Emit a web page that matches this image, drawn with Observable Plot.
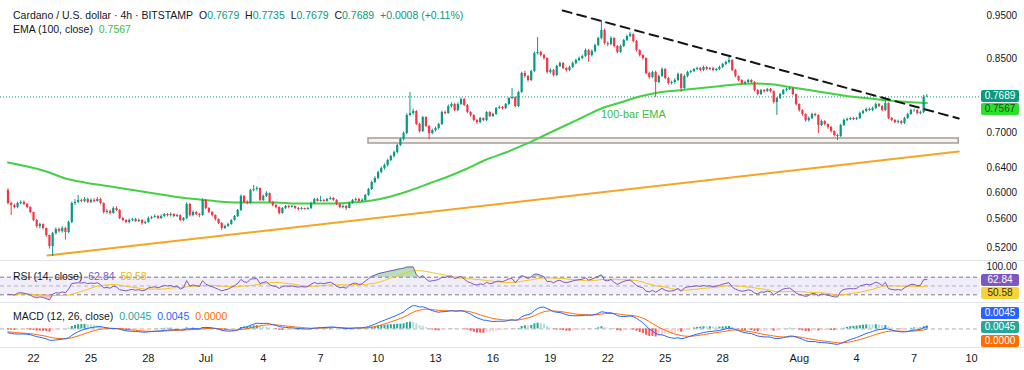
<!DOCTYPE html>
<html><head><meta charset="utf-8">
<script src="https://cdn.jsdelivr.net/npm/d3@7"></script>
<script src="https://cdn.jsdelivr.net/npm/@observablehq/plot@0.6"></script>
<style>
body{margin:0;background:#fff;}
#wrap{position:relative;width:1024px;height:370px;overflow:hidden;background:#fff;font-family:"Liberation Sans",Arial,sans-serif;}
.panel{position:absolute;left:0;}
.panel svg{overflow:hidden;}
.lg{position:absolute;left:13px;font-size:10.5px;color:#131722;white-space:nowrap;line-height:12px;}
.box{position:absolute;left:981px;width:38px;height:12px;font-size:10px;line-height:12px;text-align:center;border-radius:2px;}
.sep{position:absolute;left:0;width:1024px;height:1px;background:#e0e3eb;}
</style></head><body><div id="wrap"></div>
<script>
// ---------- data ----------
const barStart = Date.UTC(2025, 5, 20, 16);   // first 4h candle
const barHours = 4;
const firstOpen = 0.6030;
const closes = [
.5830,.5800,.5770,.5830,.5846,.5815,
.5770,.5695,.5578,.5492,.5520,.5463,
.5365,.5213,.5393,.5449,.5421,.5463,
.5407,.5549,.5830,.5846,.5876,.5861,
.5891,.5846,.5876,.5861,.5891,.5830,
.5695,.5710,.5680,.5755,.5725,.5607,
.5578,.5549,.5578,.5593,.5564,.5578,
.5535,.5549,.5607,.5622,.5636,.5607,
.5636,.5666,.5651,.5666,.5636,.5651,
.5578,.5607,.5815,.5651,.5695,.5666,
.5651,.5876,.5755,.5695,.5651,.5593,
.5535,.5463,.5492,.5520,.5578,.5636,
.5725,.5938,.5846,.5830,.6030,.6046,
.6061,.5876,.5938,.5984,.5846,.5800,
.5770,.5680,.5755,.5785,.5770,.5785,
.5755,.5740,.5755,.5740,.5755,.5830,
.5891,.5861,.5876,.5861,.5891,.5907,
.5876,.5815,.5770,.5785,.5755,.5830,
.5876,.5891,.5861,.5876,.5953,.6046,
.6157,.6221,.6319,.6385,.6435,.6519,
.6587,.6655,.6778,.6884,.6992,.7327,
.7365,.7403,.7158,.7029,.7289,.7121,
.6992,.7047,.7084,.7158,.7384,.7365,
.7500,.7540,.7422,.7540,.7638,.7520,
.7384,.7327,.7233,.7195,.7270,.7233,
.7384,.7308,.7346,.7461,.7481,.7461,
.7540,.7658,.7678,.7500,.7778,.8171,
.8108,.8024,.8214,.8607,.8630,.8562,
.8496,.8193,.8235,.8129,.8321,.8386,
.8278,.8235,.8300,.8386,.8452,.8496,
.8540,.8675,.8562,.8652,.8788,.8949,
.9137,.8834,.8811,.8949,.8766,.8630,
.8766,.8903,.8996,.9043,.8880,.8675,
.8562,.8496,.8171,.8087,.8193,.7983,
.8108,.8257,.8066,.7962,.7983,.8024,
.8150,.7859,.8108,.8193,.8214,.8257,
.8278,.8235,.8300,.8257,.8278,.8235,
.8257,.8300,.8364,.8408,.8452,.8235,
.8108,.8024,.7962,.7983,.8024,.7983,
.7818,.7737,.7818,.7798,.7838,.7798,
.7579,.7658,.7737,.7818,.7838,.7859,
.7737,.7540,.7422,.7346,.7233,.7270,
.7346,.7327,.7139,.7214,.7158,.7102,
.7029,.6956,.6938,.7139,.7233,.7251,
.7270,.7251,.7270,.7365,.7403,.7442,
.7422,.7461,.7540,.7500,.7422,.7559,
.7270,.7233,.7195,.7214,.7177,.7270,
.7346,.7422,.7422,.7365,.7384,.7679,
.7689];
const highs = [
.606,.585,.582,.585,.587,.587,
.583,.578,.570,.559,.554,.553,
.547,.537,.541,.547,.547,.549,
.548,.557,.585,.589,.595,.590,
.592,.591,.590,.590,.592,.591,
.584,.574,.573,.578,.578,.574,
.562,.559,.560,.561,.561,.560,
.559,.557,.563,.564,.566,.565,
.566,.568,.568,.569,.568,.567,
.566,.562,.584,.583,.572,.571,
.568,.590,.589,.577,.571,.566,
.560,.555,.551,.554,.559,.565,
.574,.596,.595,.587,.605,.611,
.609,.607,.596,.601,.599,.586,
.582,.578,.577,.580,.580,.580,
.579,.577,.577,.576,.577,.585,
.591,.591,.594,.589,.591,.593,
.592,.589,.582,.581,.580,.585,
.589,.591,.591,.590,.597,.606,
.618,.625,.634,.641,.646,.654,
.661,.668,.680,.691,.702,.736,
.778,.745,.742,.718,.731,.730,
.714,.707,.711,.718,.741,.741,
.753,.757,.756,.757,.767,.766,
.754,.740,.734,.725,.729,.728,
.740,.740,.737,.748,.751,.750,
.756,.768,.786,.769,.780,.820,
.822,.813,.824,.864,.897,.866,
.859,.851,.827,.826,.835,.842,
.841,.830,.833,.842,.848,.853,
.857,.871,.870,.869,.882,.898,
.938,.917,.887,.899,.897,.879,
.880,.893,.903,.909,.906,.890,
.869,.858,.851,.820,.822,.822,
.814,.829,.828,.809,.801,.806,
.818,.817,.814,.822,.824,.828,
.831,.830,.833,.832,.830,.830,
.828,.833,.839,.844,.856,.847,
.826,.812,.804,.801,.805,.804,
.800,.784,.784,.784,.786,.786,
.781,.768,.776,.784,.787,.789,
.788,.775,.755,.744,.736,.730,
.737,.737,.734,.724,.723,.717,
.712,.704,.698,.716,.726,.728,
.729,.729,.729,.739,.743,.747,
.747,.749,.757,.756,.752,.762,
.757,.729,.725,.724,.723,.729,
.737,.745,.745,.744,.741,.772,
.7735];
const lows = [
.581,.565,.575,.575,.581,.580,
.575,.568,.556,.547,.546,.544,
.534,.518,.508,.537,.540,.540,
.530,.539,.553,.580,.583,.584,
.584,.583,.583,.584,.585,.581,
.567,.567,.566,.567,.571,.559,
.556,.553,.553,.556,.555,.555,
.551,.552,.554,.559,.561,.559,
.559,.562,.563,.563,.562,.562,
.556,.556,.559,.563,.563,.565,
.562,.564,.574,.568,.563,.557,
.552,.5435,.545,.548,.551,.557,
.562,.571,.583,.581,.582,.601,
.602,.586,.586,.592,.583,.578,
.575,.566,.567,.574,.575,.576,
.574,.572,.573,.573,.573,.574,
.582,.585,.585,.585,.585,.588,
.586,.580,.575,.575,.5725,.575,
.582,.586,.585,.585,.586,.594,
.603,.614,.620,.630,.636,.641,
.650,.656,.663,.676,.686,.697,
.730,.733,.714,.700,.701,.710,
.688,.697,.702,.706,.714,.734,
.735,.747,.740,.740,.752,.750,
.736,.730,.721,.716,.717,.721,
.721,.729,.729,.733,.744,.743,
.744,.752,.763,.747,.748,.776,
.807,.799,.800,.819,.857,.853,
.846,.816,.816,.810,.811,.830,
.825,.820,.821,.828,.836,.843,
.847,.852,.841,.853,.862,.876,
.892,.880,.876,.878,.873,.860,
.861,.874,.888,.897,.885,.864,
.853,.846,.814,.805,.806,.768,
.796,.809,.804,.793,.793,.795,
.800,.778,.784,.808,.817,.819,
.823,.821,.821,.823,.823,.821,
.821,.823,.828,.834,.838,.821,
.808,.800,.793,.793,.796,.795,
.779,.771,.772,.777,.778,.777,
.755,.733,.764,.772,.779,.782,
.771,.751,.739,.731,.720,.720,
.725,.730,.699,.712,.713,.707,
.700,.693,.6866,.692,.712,.721,
.723,.723,.723,.725,.734,.738,
.740,.740,.744,.748,.740,.740,
.725,.721,.717,.717,.715,.716,
.725,.733,.739,.734,.734,.736,
.7679];
// EMA(100) read once a day (every 6th candle)
const emaStepBars = 6;
const emaValues = [.6485,.6418,.6336,.6221,.6157,.6109,.6061,.6015,.5969,.5923,.5891,.5861,.5846,.5846,.5846,.5830,.5830,.5830,.5846,.5876,.5938,.6030,.6141,.6254,.6385,.6536,.6655,.6796,.6956,.7121,.7289,.7461,.7579,.7697,.7778,.7818,.7859,.7900,.7942,.7962,.7942,.7879,.7818,.7757,.7697,.7658,.7618,.7588,.7567];
// drawn objects
const supportLineDates = ["2025-06-22T17:30Z", "2025-08-09T08:00Z"];
const supportLinePrices = [0.5093, 0.6673];
const resistLineDates = ["2025-07-19T15:30Z", "2025-08-09T08:00Z"];
const resistLinePrices = [0.9624, 0.7270];
const zoneDates = ["2025-07-09T12:00Z", "2025-08-09T08:00Z"];
const zonePrices = [0.6813, 0.6902];
const noteDate = "2025-07-23T08:00Z", notePrice = 0.7346, noteText = "100-bar EMA";
// axes
const priceTicks = [0.52, 0.56, 0.60, 0.64, 0.70, 0.85, 0.95];
const tickDates = ["2025-06-22","2025-06-25","2025-06-28","2025-07-01","2025-07-04","2025-07-07","2025-07-10","2025-07-13","2025-07-16","2025-07-19","2025-07-22","2025-07-25","2025-07-28","2025-08-01","2025-08-04","2025-08-07","2025-08-10"];
const tickLabels = ["22","25","28","Jul","4","7","10","13","16","19","22","25","28","Aug","4","7","10"];
const viewStart = Date.UTC(2025, 5, 20, 6, 37), viewEnd = Date.UTC(2025, 7, 10, 11, 17);
// legend values
const ohlc = {O:"0.7679", H:"0.7735", L:"0.7679", C:"0.7689"};
const change = "+0.0008 (+0.11%)";
const lastPrice = 0.7689, emaLast = 0.7567;
const rsiLast = 62.84, rsiMaLast = 50.58;
const macdLegend = ["0.0045", "0.0045", "0.0000"];
// indicator seeds (state before the first visible candle)
const rsiSeed = {gain: 0.0025, loss: 0.0040};
const macdSeed = {ema12: 0.600, ema26: 0.605, signal: -0.004};

// ---------- build ----------
const UP = "#089981", DOWN = "#f23645";
const H = 3600e3;
const bars = closes.map((c, i) => ({
  date: new Date(barStart + i * barHours * H),
  open: i ? closes[i - 1] : firstOpen, close: c, high: highs[i], low: lows[i]
}));
bars.forEach(b => b.col = b.close >= b.open ? UP : DOWN);
const emaData = emaValues.map((v, k) => ({date: new Date(barStart + k * emaStepBars * barHours * H), value: v}));
const supportLine = supportLineDates.map((d, i) => ({date: new Date(d), price: supportLinePrices[i]}));
const resistLine = resistLineDates.map((d, i) => ({date: new Date(d), price: resistLinePrices[i]}));
const zone = [{x1: new Date(zoneDates[0]), x2: new Date(zoneDates[1]), y1: zonePrices[0], y2: zonePrices[1]}];

// RSI 14 (Wilder) + SMA 14
let ag = rsiSeed.gain, al = rsiSeed.loss;
const rsi = bars.map(b => {
  const ch = b.close - b.open;
  ag = (ag * 13 + Math.max(ch, 0)) / 14;
  al = (al * 13 + Math.max(-ch, 0)) / 14;
  return 100 - 100 / (1 + ag / al);
});
const rsiData = bars.map((b, i) => {
  const s = rsi.slice(Math.max(0, i - 13), i + 1);
  return {date: b.date, rsi: rsi[i], ma: d3.mean(s)};
});
// MACD 12/26/9
let e12 = macdSeed.ema12, e26 = macdSeed.ema26, sig = macdSeed.signal;
const macdData = bars.map(b => {
  e12 += (b.close - e12) * 2 / 13;
  e26 += (b.close - e26) * 2 / 27;
  const m = e12 - e26;
  sig += (m - sig) * 2 / 10;
  return {date: b.date, macd: m, signal: sig, hist: m - sig};
});
macdData.forEach((d, i) => {
  const p = i ? macdData[i - 1].hist : 0;
  d.col = d.hist >= 0 ? (d.hist >= p ? "#26a69a" : "#b2dfdb") : (d.hist < p ? "#ff5252" : "#ffcdd2");
});

const wrap = document.getElementById("wrap");
const FONT = "Liberation Sans, Arial, sans-serif";
const xOpt = {type: "utc", domain: [new Date(viewStart), new Date(viewEnd)], range: [0, 980], axis: null};
const common = {width: 1024, marginLeft: 0, marginRight: 44, marginTop: 0,
  style: {fontFamily: FONT, fontSize: "10px", color: "#131722", background: "transparent"}};

const main = Plot.plot({
  ...common, height: 260, marginBottom: 0,
  x: xOpt,
  y: {type: "log", domain: [0.50275, 0.98774]},
  marks: [
    Plot.rect(zone, {x1: "x1", x2: "x2", y1: "y1", y2: "y2", fill: "#f6f3ef", stroke: "#a49e97", strokeWidth: 1.5}),
    Plot.line(supportLine, {x: "date", y: "price", stroke: "#f5a524", strokeWidth: 2}),
    Plot.ruleY([lastPrice], {stroke: UP, strokeDasharray: "1,2", strokeWidth: 1}),
    Plot.line(emaData, {x: "date", y: "value", stroke: "#45d045", strokeWidth: 2, curve: "monotone-x"}),
    Plot.ruleX(bars, {x: "date", y1: "low", y2: "high", stroke: "col", strokeWidth: 1}),
    Plot.ruleX(bars, {x: "date", y1: "open", y2: "close", stroke: "col", strokeWidth: 2.2}),
    Plot.line(resistLine, {x: "date", y: "price", stroke: "#151515", strokeWidth: 2, strokeDasharray: "9,6"}),
    Plot.text([{date: new Date(noteDate), price: notePrice, t: noteText}], {x: "date", y: "price", text: "t", fill: "#3cc03c", fontSize: 11}),
    Plot.axisY({anchor: "right", ticks: priceTicks, tickFormat: d3.format(".4f"), tickSize: 0, tickPadding: 6, fontSize: 10, fill: "#131722"})
  ]
});

const rsiPlot = Plot.plot({
  ...common, height: 42, marginBottom: 0,
  x: xOpt,
  y: {domain: [12.5, 107.95]},
  marks: [
    Plot.rectY([0], {y1: 30, y2: 70, fill: "#7e57c2", fillOpacity: 0.1}),
    Plot.areaY(rsiData, {x: "date", y1: 70, y2: d => Math.max(70, d.rsi), fill: "#4caf50", fillOpacity: 0.4}),
    Plot.areaY(rsiData, {x: "date", y1: d => Math.min(30, d.rsi), y2: 30, fill: "#f23645", fillOpacity: 0.3}),
    Plot.ruleY([70, 30], {stroke: "#787b86", strokeDasharray: "4,3"}),
    Plot.ruleY([50], {stroke: "#787b86", strokeOpacity: 0.5, strokeDasharray: "4,3"}),
    Plot.line(rsiData, {x: "date", y: "ma", stroke: "#f5c518", strokeWidth: 1}),
    Plot.line(rsiData, {x: "date", y: "rsi", stroke: "#7e57c2", strokeWidth: 1}),
    Plot.axisY({anchor: "right", ticks: [100], tickFormat: d3.format(".2f"), tickSize: 0, tickPadding: 6, dy: 3, fontSize: 10, fill: "#131722"})
  ]
});

const mx = d3.max(macdData, d => Math.max(d.macd, d.signal, d.hist));
const mn = d3.min(macdData, d => Math.min(d.macd, d.signal, d.hist));
const pad = (mx - mn) * 0.08;
const tickMap = new Map(tickDates.map((d, i) => [+new Date(d + "T00:00Z"), tickLabels[i]]));
const macdPlot = Plot.plot({
  ...common, height: 68, marginBottom: 23,
  x: xOpt,
  y: {domain: [mn - pad, mx + pad], axis: null},
  marks: [
    Plot.ruleY([0], {stroke: "#787b86", strokeOpacity: 0.6, strokeDasharray: "4,3"}),
    Plot.ruleX(macdData, {x: "date", y1: 0, y2: "hist", stroke: "col", strokeWidth: 2}),
    Plot.line(macdData, {x: "date", y: "signal", stroke: "#ff6d00", strokeWidth: 1}),
    Plot.line(macdData, {x: "date", y: "macd", stroke: "#2962ff", strokeWidth: 1}),
    Plot.axisX({ticks: [...tickMap.keys()].map(t => new Date(t)), tickFormat: d => tickMap.get(+d), tickSize: 0, tickPadding: 7, fontSize: 11, fill: "#131722"})
  ]
});

function place(el, top) { const d = document.createElement("div"); d.className = "panel"; d.style.top = top + "px"; d.appendChild(el); wrap.appendChild(d); }
place(main, 0); place(rsiPlot, 260); place(macdPlot, 302);
[260, 302, 347].forEach(y => { const s = document.createElement("div"); s.className = "sep"; s.style.top = y + "px"; wrap.appendChild(s); });

function html(cls, top, inner, extra) {
  const d = document.createElement("div"); d.className = cls; d.style.top = top + "px"; d.innerHTML = inner;
  if (extra) Object.assign(d.style, extra); wrap.appendChild(d); return d;
}
const T = s => `<span style="color:${UP}">${s}</span>`;
html("lg", 9, `Cardano / U.S. dollar · 4h · BITSTAMP&nbsp; O${T(ohlc.O)}&nbsp; H${T(ohlc.H)}&nbsp; L${T(ohlc.L)}&nbsp; C${T(ohlc.C)}&nbsp; ${T(change)}`);
html("lg", 23, `EMA (100, close)&nbsp; <span style="color:#3cc03c">${emaLast.toFixed(4)}</span>`);
html("lg", 270, `RSI (14, close)&nbsp; <span style="color:#7e57c2">${rsiLast.toFixed(2)}</span>&nbsp; <span style="color:#e8b90c">${rsiMaLast.toFixed(2)}</span>`);
html("lg", 310, `MACD (12, 26, close)&nbsp; <span style="color:#26a69a">${macdLegend[0]}</span>&nbsp; <span style="color:#2962ff">${macdLegend[1]}</span>&nbsp; <span style="color:#ff6d00">${macdLegend[2]}</span>`);

// price-scale value boxes, positioned through the plots' own scales
const ys = main.scale("y");
let yA = ys.apply(lastPrice), yB = Math.max(ys.apply(emaLast), yA + 13);
html("box", yA - 6, lastPrice.toFixed(4), {background: UP, color: "#fff"});
html("box", yB - 6, emaLast.toFixed(4), {background: "#2ee02e", color: "#0d4f0d"});
const rs = rsiPlot.scale("y");
let rA = 260 + rs.apply(rsiLast), rB = Math.max(260 + rs.apply(rsiMaLast), rA + 13);
html("box", rA - 6, rsiLast.toFixed(2), {background: "#7e57c2", color: "#fff"});
html("box", rB - 6, rsiMaLast.toFixed(2), {background: "#f7d23a", color: "#3a3000"});
const macdCols = ["#2962ff", "#26a69a", "#ff6d00"];
[313, 327, 341].forEach((c, i) => html("box", c - 6, macdLegend[i], {background: macdCols[i], color: "#fff"}));
</script></body></html>
